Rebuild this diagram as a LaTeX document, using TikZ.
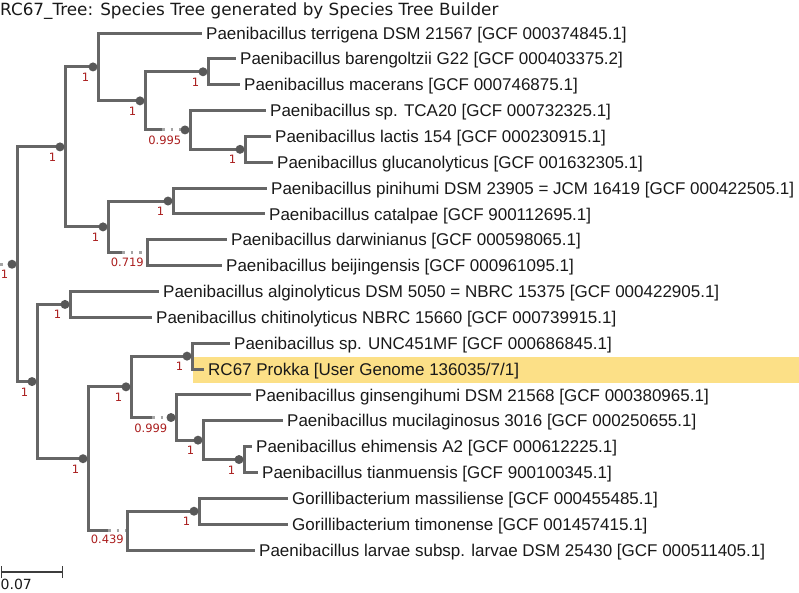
\documentclass[tikz,border=0pt]{standalone}
\usepackage{fontspec}
\setmainfont{Liberation Sans}
\newfontfamily\dvs{DejaVu Sans}
\definecolor{br}{RGB}{102,102,102}
\definecolor{dotc}{RGB}{88,88,88}
\definecolor{supc}{RGB}{170,30,30}
\definecolor{hl}{RGB}{252,224,135}
\definecolor{faint}{RGB}{165,165,165}
\definecolor{txt}{RGB}{25,25,25}
\tikzset{
 branch/.style={draw=br, line width=3pt},
 faintbr/.style={draw=faint, line width=3pt, dash pattern=on 2.5pt off 6pt},
 dotnode/.style={circle, fill=dotc, minimum size=9pt, inner sep=0pt},
 leaf/.style={anchor=base west, inner sep=0pt, font=\fontsize{17}{20}\selectfont, text=txt},
 sup/.style={anchor=north east, inner sep=0pt, font=\dvs\fontsize{11.5}{13}\selectfont, text=supc},
 sbar/.style={draw=txt!85, line width=1.3pt},
}
\begin{document}
\begin{tikzpicture}[x=1pt,y=-1pt]
\useasboundingbox (0,0) rectangle (799,592);
% title
\node[anchor=base west, inner sep=0pt, font=\dvs\fontsize{16.8}{20}\selectfont, text=txt] (title) at (0,15) {RC67\_Tree: Species Tree generated by Species Tree Builder};
% highlight
\fill[hl] (193,357) rectangle (799,383);
% internal nodes (vertical x, node y)
\coordinate (R) at (17,264.24);
\coordinate (A) at (65,146.9);
\coordinate (B) at (98,66.93);
\coordinate (C) at (145,100.86);
\coordinate (D) at (208,71.78);
\coordinate (E) at (190,129.94);
\coordinate (F) at (245,149.33);
\coordinate (G) at (108,226.88);
\coordinate (H) at (173,201.03);
\coordinate (I) at (147,252.73);
\coordinate (J) at (37,381.57);
\coordinate (K) at (70,304.43);
\coordinate (L) at (88,458.71);
\coordinate (M) at (131,386.82);
\coordinate (N) at (192,356.13);
\coordinate (O) at (176,417.52);
\coordinate (P) at (203,440.14);
\coordinate (Q) at (244,459.53);
\coordinate (S) at (127,530.6);
\coordinate (T) at (199,511.23);
% break points of the faint branches
\coordinate (R0) at (0,264.24);
\coordinate (Es) at (162,129.94);
\coordinate (Is) at (122,252.73);
\coordinate (Os) at (152,417.52);
\coordinate (Ss) at (108,530.6);
% leaf line ends
\coordinate (e1) at (202,33);
\coordinate (e2) at (236,58.85);
\coordinate (e3) at (240,84.7);
\coordinate (e4) at (266,110.55);
\coordinate (e5) at (271,136.4);
\coordinate (e6) at (273,162.25);
\coordinate (e7) at (267,188.1);
\coordinate (e8) at (265,213.95);
\coordinate (e9) at (227,239.8);
\coordinate (e10) at (222,265.65);
\coordinate (e11) at (159,291.5);
\coordinate (e12) at (152,317.35);
\coordinate (e13) at (230,343.2);
\coordinate (e14) at (204,369.05);
\coordinate (e15) at (251,394.9);
\coordinate (e16) at (283,420.75);
\coordinate (e17) at (252,446.6);
\coordinate (e18) at (258,472.45);
\coordinate (e19) at (288,498.3);
\coordinate (e20) at (288,524.15);
\coordinate (e21) at (255,550);
% leaf labels
\node[leaf] (t1) at (206,39.1) {Paenibacillus terrigena DSM 21567 [GCF 000374845.1]};
\node[leaf] (t2) at (240,64.95) {Paenibacillus barengoltzii G22 [GCF 000403375.2]};
\node[leaf] (t3) at (244,90.8) {Paenibacillus macerans [GCF 000746875.1]};
\node[leaf] (t4) at (270,116.65) {Paenibacillus sp. TCA20 [GCF 000732325.1]};
\node[leaf] (t5) at (275,142.5) {Paenibacillus lactis 154 [GCF 000230915.1]};
\node[leaf] (t6) at (277,168.35) {Paenibacillus glucanolyticus [GCF 001632305.1]};
\node[leaf] (t7) at (271,194.2) {Paenibacillus pinihumi DSM 23905 = JCM 16419 [GCF 000422505.1]};
\node[leaf] (t8) at (269,220.05) {Paenibacillus catalpae [GCF 900112695.1]};
\node[leaf] (t9) at (231,245.9) {Paenibacillus darwinianus [GCF 000598065.1]};
\node[leaf] (t10) at (226,271.75) {Paenibacillus beijingensis [GCF 000961095.1]};
\node[leaf] (t11) at (163,297.6) {Paenibacillus alginolyticus DSM 5050 = NBRC 15375 [GCF 000422905.1]};
\node[leaf] (t12) at (156,323.45) {Paenibacillus chitinolyticus NBRC 15660 [GCF 000739915.1]};
\node[leaf] (t13) at (234,349.3) {Paenibacillus sp. UNC451MF [GCF 000686845.1]};
\node[leaf] (t14) at (208,375.15) {RC67 Prokka [User Genome 136035/7/1]};
\node[leaf] (t15) at (255,401) {Paenibacillus ginsengihumi DSM 21568 [GCF 000380965.1]};
\node[leaf] (t16) at (287,426.85) {Paenibacillus mucilaginosus 3016 [GCF 000250655.1]};
\node[leaf] (t17) at (256,452.7) {Paenibacillus ehimensis A2 [GCF 000612225.1]};
\node[leaf] (t18) at (262,478.55) {Paenibacillus tianmuensis [GCF 900100345.1]};
\node[leaf] (t19) at (292,504.4) {Gorillibacterium massiliense [GCF 000455485.1]};
\node[leaf] (t20) at (292,530.25) {Gorillibacterium timonense [GCF 001457415.1]};
\node[leaf] (t21) at (259,556.1) {Paenibacillus larvae subsp. larvae DSM 25430 [GCF 000511405.1]};
% branches
\draw[faintbr] (R0) -- (R);
\draw[branch] (R) |- (A);
\draw[branch] (R) |- (J);
\draw[branch] (A) |- (B);
\draw[branch] (A) |- (G);
\draw[branch] (B) |- (e1);
\draw[branch] (B) |- (C);
\draw[branch] (C) |- (D);
\draw[branch] (C) |- (Es);
\draw[faintbr] (Es) -- (E);
\draw[branch] (D) |- (e2);
\draw[branch] (D) |- (e3);
\draw[branch] (E) |- (e4);
\draw[branch] (E) |- (F);
\draw[branch] (F) |- (e5);
\draw[branch] (F) |- (e6);
\draw[branch] (G) |- (H);
\draw[branch] (G) |- (Is);
\draw[faintbr] (Is) -- (I);
\draw[branch] (H) |- (e7);
\draw[branch] (H) |- (e8);
\draw[branch] (I) |- (e9);
\draw[branch] (I) |- (e10);
\draw[branch] (J) |- (K);
\draw[branch] (J) |- (L);
\draw[branch] (K) |- (e11);
\draw[branch] (K) |- (e12);
\draw[branch] (L) |- (M);
\draw[branch] (L) |- (Ss);
\draw[faintbr] (Ss) -- (S);
\draw[branch] (M) |- (N);
\draw[branch] (M) |- (Os);
\draw[faintbr] (Os) -- (O);
\draw[branch] (N) |- (e13);
\draw[branch] (N) |- (e14);
\draw[branch] (O) |- (e15);
\draw[branch] (O) |- (P);
\draw[branch] (P) |- (e16);
\draw[branch] (P) |- (Q);
\draw[branch] (Q) |- (e17);
\draw[branch] (Q) |- (e18);
\draw[branch] (S) |- (T);
\draw[branch] (S) |- (e21);
\draw[branch] (T) |- (e19);
\draw[branch] (T) |- (e20);
% node dots
\node[dotnode] (cR) at (12,264.24) {};
\node[dotnode] (cA) at (60,146.9) {};
\node[dotnode] (cB) at (93,66.93) {};
\node[dotnode] (cC) at (140,100.86) {};
\node[dotnode] (cD) at (203,71.78) {};
\node[dotnode] (cE) at (185,129.94) {};
\node[dotnode] (cF) at (240,149.33) {};
\node[dotnode] (cG) at (103,226.88) {};
\node[dotnode] (cH) at (168,201.03) {};
\node[dotnode] (cJ) at (32,381.57) {};
\node[dotnode] (cK) at (65,304.43) {};
\node[dotnode] (cL) at (83,458.71) {};
\node[dotnode] (cM) at (126,386.82) {};
\node[dotnode] (cN) at (187,356.13) {};
\node[dotnode] (cO) at (171,417.52) {};
\node[dotnode] (cP) at (198,440.14) {};
\node[dotnode] (cQ) at (239,459.53) {};
\node[dotnode] (cT) at (194,511.23) {};
% support values
\node[sup] (sR) at (8.5,270.2) {1};
\node[sup] (sA) at (56.5,152.9) {1};
\node[sup] (sB) at (89.5,72.9) {1};
\node[sup] (sC) at (136.5,106.9) {1};
\node[sup] (sD) at (199.5,77.8) {1};
\node[sup] (sE) at (181.5,135.9) {0.995};
\node[sup] (sF) at (236.5,155.3) {1};
\node[sup] (sG) at (99.5,232.9) {1};
\node[sup] (sH) at (164.5,207) {1};
\node[sup] (sI) at (144,257.5) {0.719};
\node[sup] (sJ) at (28.5,387.6) {1};
\node[sup] (sK) at (61.5,310.4) {1};
\node[sup] (sL) at (79.5,464.7) {1};
\node[sup] (sM) at (122.5,392.8) {1};
\node[sup] (sN) at (183.5,362.1) {1};
\node[sup] (sO) at (167.5,423.5) {0.999};
\node[sup] (sP) at (194.5,446.1) {1};
\node[sup] (sQ) at (235.5,465.5) {1};
\node[sup] (sS) at (124,535) {0.439};
\node[sup] (sT) at (190.5,517.2) {1};
% scale bar
\coordinate (sb1) at (1.5,572);
\coordinate (sb2) at (62.5,572);
\draw[sbar] (sb1) -- (sb2);
\draw[sbar] ([yshift=-6pt]sb1) -- ([yshift=6pt]sb1);
\draw[sbar] ([yshift=-6pt]sb2) -- ([yshift=6pt]sb2);
\node[anchor=base west, inner sep=0pt, font=\dvs\fontsize{14}{16}\selectfont, text=txt] (sblab) at (0.5,589) {0.07};
\end{tikzpicture}
\end{document}
